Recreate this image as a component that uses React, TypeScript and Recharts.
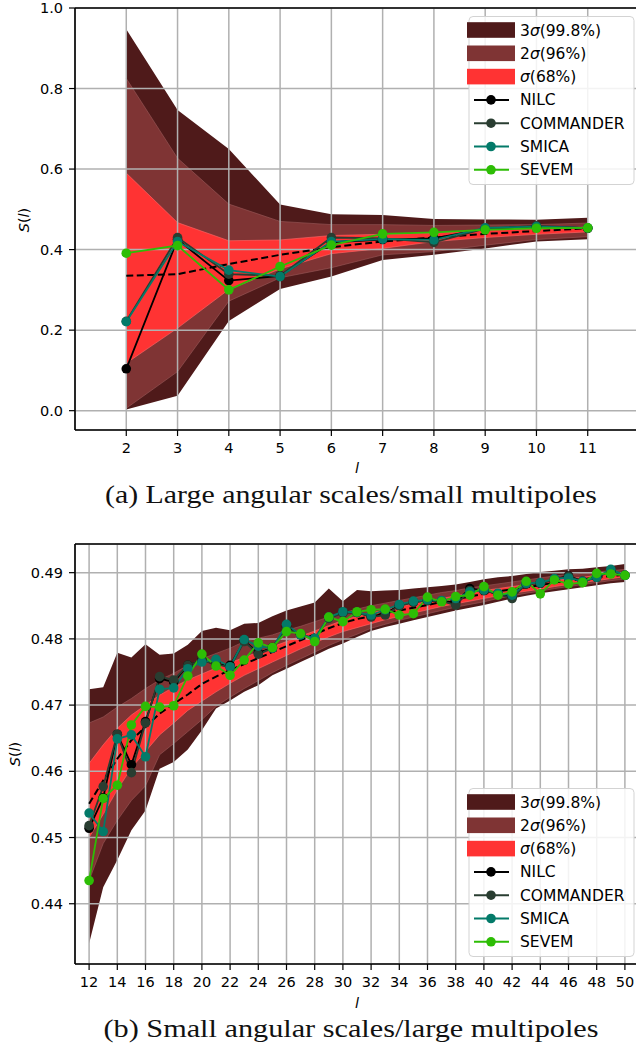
import { Area, CartesianGrid, ComposedChart, Line, ReferenceLine, XAxis, YAxis } from "recharts"

// ---- large angular scales (l = 2..11) ----
const ellLow = [2, 3, 4, 5, 6, 7, 8, 9, 10, 11]
const lowHi3 = [0.947, 0.747, 0.65, 0.512, 0.488, 0.486, 0.476, 0.475, 0.474, 0.479]
const lowHi2 = [0.825, 0.627, 0.513, 0.47, 0.462, 0.462, 0.46, 0.461, 0.462, 0.466]
const lowHi1 = [0.59, 0.467, 0.422, 0.424, 0.435, 0.438, 0.441, 0.448, 0.452, 0.456]
const lowLo1 = [0.118, 0.205, 0.301, 0.352, 0.39, 0.403, 0.42, 0.43, 0.438, 0.444]
const lowLo2 = [0.006, 0.097, 0.272, 0.33, 0.355, 0.387, 0.395, 0.411, 0.425, 0.432]
const lowLo3 = [0.003, 0.037, 0.223, 0.302, 0.333, 0.374, 0.387, 0.403, 0.42, 0.426]
const lowMean = [0.335, 0.339, 0.364, 0.387, 0.406, 0.42, 0.43, 0.439, 0.446, 0.453]
const lowNilc = [0.104, 0.425, 0.323, 0.335, 0.418, 0.425, 0.428, 0.452, 0.457, 0.453]
const lowCommander = [0.222, 0.43, 0.339, 0.335, 0.43, 0.428, 0.418, 0.452, 0.459, 0.453]
const lowSmica = [0.221, 0.42, 0.349, 0.333, 0.42, 0.426, 0.424, 0.454, 0.457, 0.454]
const lowSevem = [0.391, 0.41, 0.3, 0.358, 0.411, 0.439, 0.443, 0.449, 0.453, 0.454]
const lowXTicks = [2, 3, 4, 5, 6, 7, 8, 9, 10, 11]
const lowYTicks = [0, 0.2, 0.4, 0.6, 0.8, 1.0]

// ---- small angular scales (l = 12..50) ----
const ellHigh = [
  12, 13, 14, 15, 16, 17, 18, 19, 20, 21, 22, 23, 24, 25, 26, 27, 28, 29, 30, 31,
  32, 33, 34, 35, 36, 37, 38, 39, 40, 41, 42, 43, 44, 45, 46, 47, 48, 49, 50,
]
const highHi3 = [
  0.4724, 0.4727, 0.4779, 0.4772, 0.4792, 0.4776, 0.4778, 0.4791, 0.4812, 0.4817, 0.4813, 0.4823, 0.4824,
  0.4834, 0.4843, 0.4849, 0.4855, 0.4876, 0.4857, 0.4874, 0.4872, 0.4873, 0.4874, 0.4876, 0.4878, 0.488,
  0.4882, 0.4886, 0.489, 0.4893, 0.4895, 0.4898, 0.4901, 0.4903, 0.4905, 0.4906, 0.4908, 0.491, 0.4913,
]
const highHi2 = [
  0.4673, 0.4682, 0.4697, 0.471, 0.4725, 0.4738, 0.4748, 0.476, 0.477, 0.4778, 0.4786, 0.4796, 0.4801,
  0.4806, 0.4813, 0.4819, 0.4826, 0.4833, 0.4839, 0.4845, 0.485, 0.4854, 0.4858, 0.4862, 0.4866, 0.487,
  0.4873, 0.4877, 0.488, 0.4883, 0.4886, 0.4889, 0.4892, 0.4895, 0.4897, 0.4899, 0.4901, 0.4903, 0.4905,
]
const highHi1 = [
  0.4612, 0.464, 0.4665, 0.4685, 0.47, 0.4715, 0.4727, 0.4738, 0.4747, 0.4756, 0.4764, 0.4772, 0.478,
  0.4788, 0.4796, 0.4804, 0.4812, 0.482, 0.4828, 0.4834, 0.4839, 0.4844, 0.4849, 0.4853, 0.4857, 0.4861,
  0.4865, 0.4869, 0.4873, 0.4876, 0.4879, 0.4882, 0.4885, 0.4888, 0.4891, 0.4893, 0.4896, 0.4898, 0.49,
]
const highLo1 = [
  0.45, 0.4535, 0.4572, 0.4605, 0.463, 0.4655, 0.4673, 0.4692, 0.4706, 0.472, 0.4733, 0.4745, 0.4755,
  0.4765, 0.4775, 0.4785, 0.4794, 0.4803, 0.4811, 0.4817, 0.4823, 0.4829, 0.4834, 0.4839, 0.4844, 0.4849,
  0.4853, 0.4857, 0.4861, 0.4865, 0.4869, 0.4872, 0.4875, 0.4879, 0.4882, 0.4885, 0.4888, 0.4891, 0.4894,
]
const highLo2 = [
  0.4435, 0.4491, 0.4526, 0.4556, 0.4578, 0.4625, 0.4642, 0.466, 0.4678, 0.4698, 0.4712, 0.4725, 0.4737,
  0.4749, 0.476, 0.477, 0.478, 0.479, 0.4799, 0.4807, 0.4816, 0.4822, 0.4828, 0.4833, 0.4838, 0.4843,
  0.4848, 0.4852, 0.4856, 0.4861, 0.4865, 0.4869, 0.4872, 0.4876, 0.4879, 0.4882, 0.4885, 0.4888, 0.489,
]
const highLo3 = [
  0.434, 0.4425, 0.4466, 0.4511, 0.4541, 0.4604, 0.4614, 0.4633, 0.4662, 0.4695, 0.4707, 0.472, 0.473,
  0.4745, 0.4755, 0.4765, 0.4775, 0.4785, 0.4793, 0.4803, 0.4812, 0.4818, 0.4823, 0.4828, 0.4833, 0.4838,
  0.4843, 0.4847, 0.4851, 0.4856, 0.4861, 0.4865, 0.4869, 0.4872, 0.4875, 0.4878, 0.4881, 0.4884, 0.4886,
]
const highMean = [
  0.4551, 0.4586, 0.4619, 0.4647, 0.4667, 0.4687, 0.4702, 0.4716, 0.4732, 0.4743, 0.4753, 0.4762, 0.4771,
  0.478, 0.4789, 0.4798, 0.4807, 0.4816, 0.4824, 0.483, 0.4834, 0.4839, 0.4843, 0.4847, 0.4851, 0.4856,
  0.486, 0.4864, 0.4868, 0.4872, 0.4875, 0.4878, 0.4881, 0.4885, 0.4888, 0.489, 0.4893, 0.4895, 0.4897,
]
const highNilc = [
  0.4514, 0.456, 0.4656, 0.461, 0.4675, 0.474, 0.4735, 0.476, 0.4768, 0.4762, 0.476, 0.4797, 0.4779,
  0.4787, 0.4818, 0.4807, 0.48, 0.4832, 0.484, 0.484, 0.4834, 0.4838, 0.4851, 0.4856, 0.4858, 0.4857,
  0.4855, 0.4876, 0.4873, 0.4868, 0.4863, 0.4883, 0.4884, 0.489, 0.4895, 0.4887, 0.4893, 0.4903, 0.4896,
]
const highCommander = [
  0.4518, 0.4577, 0.4656, 0.4598, 0.4673, 0.4743, 0.4738, 0.476, 0.4767, 0.4762, 0.4757, 0.4796, 0.4777,
  0.4786, 0.4816, 0.4806, 0.48, 0.4831, 0.4839, 0.484, 0.4833, 0.4836, 0.485, 0.4855, 0.4858, 0.4857,
  0.4851, 0.4873, 0.4873, 0.4868, 0.4861, 0.4883, 0.4884, 0.489, 0.4894, 0.4887, 0.4893, 0.4903, 0.4896,
]
const highSmica = [
  0.4537, 0.4509, 0.4649, 0.4655, 0.4622, 0.4724, 0.4726, 0.4755, 0.4765, 0.4769, 0.4758, 0.4799, 0.4789,
  0.4786, 0.4822, 0.4806, 0.4801, 0.4833, 0.4841, 0.484, 0.4836, 0.4844, 0.4852, 0.4857, 0.4859, 0.4858,
  0.4861, 0.4871, 0.4874, 0.4869, 0.4866, 0.4884, 0.4885, 0.4891, 0.4892, 0.4887, 0.4893, 0.4905, 0.4896,
]
const highSevem = [
  0.4435, 0.4559, 0.4579, 0.467, 0.4698, 0.4697, 0.4699, 0.4744, 0.4777, 0.4759, 0.4745, 0.4768, 0.4794,
  0.4787, 0.4811, 0.4808, 0.4796, 0.4833, 0.4826, 0.4841, 0.4844, 0.4845, 0.4836, 0.4838, 0.4863, 0.4856,
  0.4864, 0.4866, 0.4879, 0.4866, 0.4871, 0.4887, 0.4868, 0.4889, 0.4883, 0.4885, 0.4899, 0.4898, 0.4896,
]
const highXTicks = [12, 14, 16, 18, 20, 22, 24, 26, 28, 30, 32, 34, 36, 38, 40, 42, 44, 46, 48, 50]
const highYTicks = [0.44, 0.45, 0.46, 0.47, 0.48, 0.49]

const C3 = "#4f1a1a"
const C2 = "#7f3434"
const C1 = "#ff3333"
const SERIES = [
  { key: "nilc", name: "NILC", color: "#000000" },
  { key: "commander", name: "COMMANDER", color: "#293d31" },
  { key: "smica", name: "SMICA", color: "#037a69" },
  { key: "sevem", name: "SEVEM", color: "#2dbd05" },
]
const SANS = "DejaVu Sans, sans-serif"
const CHART_W = 660
const CHART_H = 480
const MARGIN = { top: 8, right: 21, left: 0, bottom: 0 }

type Panel = {
  ell: number[]
  hi3: number[]; hi2: number[]; hi1: number[]
  lo1: number[]; lo2: number[]; lo3: number[]
  mean: number[]
  nilc: number[]; commander: number[]; smica: number[]; sevem: number[]
}

function buildRows(p: Panel) {
  return p.ell.map((l, i) => ({
    l,
    s3: [p.lo3[i], p.hi3[i]],
    s2: [p.lo2[i], p.hi2[i]],
    s1: [p.lo1[i], p.hi1[i]],
    mean: p.mean[i],
    nilc: p.nilc[i],
    commander: p.commander[i],
    smica: p.smica[i],
    sevem: p.sevem[i],
  }))
}

function LegendBox() {
  const rowH = 23.3
  const sig = (pre: string, post: string) => (
    <>
      {pre}
      <tspan fontStyle="italic">σ</tspan>
      {post}
    </>
  )
  const patches = [
    { color: C3, label: sig("3", "(99.8%)") },
    { color: C2, label: sig("2", "(96%)") },
    { color: C1, label: sig("", "(68%)") },
  ]
  return (
    <svg width={172} height={172} style={{ display: "block" }}>
      <rect x={4} y={0.5} width={165} height={168} rx={4} fill="#ffffff" fillOpacity={0.85} stroke="#d3d3d3" />
      {patches.map((p, i) => (
        <g key={i}>
          <rect x={2} y={14 + i * rowH - 7.8} width={48} height={15.6} fill={p.color} />
          <text x={55} y={14 + i * rowH + 5.5} fontSize={15.5} fontFamily={SANS} fill="#000">
            {p.label}
          </text>
        </g>
      ))}
      {SERIES.map((s, j) => {
        const cy = 14 + (j + 3) * rowH
        return (
          <g key={s.key}>
            <line x1={9} x2={44} y1={cy} y2={cy} stroke={s.color} strokeWidth={2} />
            <circle cx={26} cy={cy} r={4.8} fill={s.color} />
            <text x={55} y={cy + 5.5} fontSize={15.5} fontFamily={SANS} fill="#000">
              {s.name}
            </text>
          </g>
        )
      })}
    </svg>
  )
}

type PanelProps = {
  panel: Panel
  xDomain: [number, number]
  yDomain: [number, number]
  xTicks: number[]
  yTicks: number[]
  yDigits: number
  xAxisHeight: number
  legendTop: number
}

function Axes(props: PanelProps & { show: boolean }) {
  const { xDomain, yDomain, xTicks, yTicks, yDigits, xAxisHeight, show } = props
  const tickStyle = { fontSize: 14.5, fontFamily: SANS, fill: "#000" }
  return [
    <XAxis
      key="x"
      dataKey="l"
      type="number"
      domain={xDomain}
      allowDataOverflow
      ticks={xTicks}
      interval={0}
      height={xAxisHeight}
      tickSize={6}
      tickMargin={7}
      tick={show ? tickStyle : false}
      axisLine={show ? { stroke: "#000", strokeWidth: 1.6 } : false}
      tickLine={show ? { stroke: "#000", strokeWidth: 1.2 } : false}
    />,
    <YAxis
      key="y"
      type="number"
      domain={yDomain}
      allowDataOverflow
      ticks={yTicks}
      interval={0}
      width={75}
      tickSize={6}
      tickMargin={6}
      tick={show ? tickStyle : false}
      tickFormatter={(v: number) => v.toFixed(yDigits)}
      axisLine={show ? { stroke: "#000", strokeWidth: 1.6 } : false}
      tickLine={show ? { stroke: "#000", strokeWidth: 1.2 } : false}
    />,
  ]
}

// bands underneath, then grid and curves in a second layer on top
function PanelChart(props: PanelProps) {
  const rows = buildRows(props.panel)
  return (
    <div style={{ position: "relative", width: CHART_W, height: CHART_H }}>
      <div style={{ position: "absolute", left: 0, top: 0 }}>
        <ComposedChart width={CHART_W} height={CHART_H} data={rows} margin={MARGIN}>
          {Axes({ ...props, show: false })}
          <Area type="linear" dataKey="s3" fill={C3} fillOpacity={1} stroke="none" isAnimationActive={false} />
          <Area type="linear" dataKey="s2" fill={C2} fillOpacity={1} stroke="#9c5a5a" strokeWidth={0.6} isAnimationActive={false} />
          <Area type="linear" dataKey="s1" fill={C1} fillOpacity={1} stroke="#ff6a6a" strokeWidth={0.6} isAnimationActive={false} />
        </ComposedChart>
      </div>
      <div style={{ position: "absolute", left: 0, top: 0 }}>
        <ComposedChart width={CHART_W} height={CHART_H} data={rows} margin={MARGIN}>
          <CartesianGrid stroke="#b0b0b0" strokeWidth={1.5} />
          {Axes({ ...props, show: true })}
          <ReferenceLine y={props.yDomain[1]} stroke="#000" strokeWidth={1.6} />
          <Line
            type="linear"
            dataKey="mean"
            stroke="#000"
            strokeWidth={2}
            strokeDasharray="7 3.5"
            dot={false}
            activeDot={false}
            isAnimationActive={false}
          />
          {SERIES.map((s) => (
            <Line
              key={s.key}
              type="linear"
              dataKey={s.key}
              name={s.name}
              stroke={s.color}
              strokeWidth={1.8}
              dot={{ r: 4.8, fill: s.color, stroke: s.color, strokeWidth: 0 }}
              activeDot={false}
              isAnimationActive={false}
            />
          ))}
        </ComposedChart>
      </div>
      <div style={{ position: "absolute", left: 465, top: props.legendTop }}>
        <LegendBox />
      </div>
    </div>
  )
}

export default function App() {
  const low: Panel = {
    ell: ellLow, hi3: lowHi3, hi2: lowHi2, hi1: lowHi1, lo1: lowLo1, lo2: lowLo2, lo3: lowLo3,
    mean: lowMean, nilc: lowNilc, commander: lowCommander, smica: lowSmica, sevem: lowSevem,
  }
  const high: Panel = {
    ell: ellHigh, hi3: highHi3, hi2: highHi2, hi1: highHi1, lo1: highLo1, lo2: highLo2, lo3: highLo3,
    mean: highMean, nilc: highNilc, commander: highCommander, smica: highSmica, sevem: highSevem,
  }
  const caption = { fontSize: 25, fontFamily: "Liberation Serif, serif", fill: "#111" }
  return (
    <div style={{ position: "absolute", left: 0, top: 0, width: 636, height: 1050, overflow: "hidden", background: "#fff" }}>
      <div style={{ position: "absolute", left: 0, top: 0 }}>
        <PanelChart
          panel={low}
          xDomain={[1, 12]}
          yDomain={[-0.048, 1.0]}
          xTicks={lowXTicks}
          yTicks={lowYTicks}
          yDigits={1}
          xAxisHeight={50}
          legendTop={16}
        />
      </div>
      <div style={{ position: "absolute", left: 0, top: 536 }}>
        <PanelChart
          panel={high}
          xDomain={[11, 51]}
          yDomain={[0.4309, 0.49433]}
          xTicks={highXTicks}
          yTicks={highYTicks}
          yDigits={2}
          xAxisHeight={52}
          legendTop={252}
        />
      </div>
      <svg width={636} height={1050} style={{ position: "absolute", left: 0, top: 0, pointerEvents: "none" }}>
        <text x={24} y={220} transform="rotate(-90 24 220)" textAnchor="middle" dominantBaseline="central" fontSize={14.5} fontFamily={SANS}>
          <tspan fontStyle="italic">S</tspan>(<tspan fontStyle="italic">l</tspan>)
        </text>
        <text x={15} y={754} transform="rotate(-90 15 754)" textAnchor="middle" dominantBaseline="central" fontSize={14.5} fontFamily={SANS}>
          <tspan fontStyle="italic">S</tspan>(<tspan fontStyle="italic">l</tspan>)
        </text>
        <text x={357} y={473} textAnchor="middle" fontSize={14.5} fontFamily={SANS} fontStyle="italic">l</text>
        <text x={357} y={1008} textAnchor="middle" fontSize={14.5} fontFamily={SANS} fontStyle="italic">l</text>
        <text x={351} y={503} textAnchor="middle" textLength={492} lengthAdjust="spacingAndGlyphs" {...caption}>
          (a) Large angular scales/small multipoles
        </text>
        <text x={351} y={1037} textAnchor="middle" textLength={495} lengthAdjust="spacingAndGlyphs" {...caption}>
          (b) Small angular scales/large multipoles
        </text>
      </svg>
    </div>
  )
}
